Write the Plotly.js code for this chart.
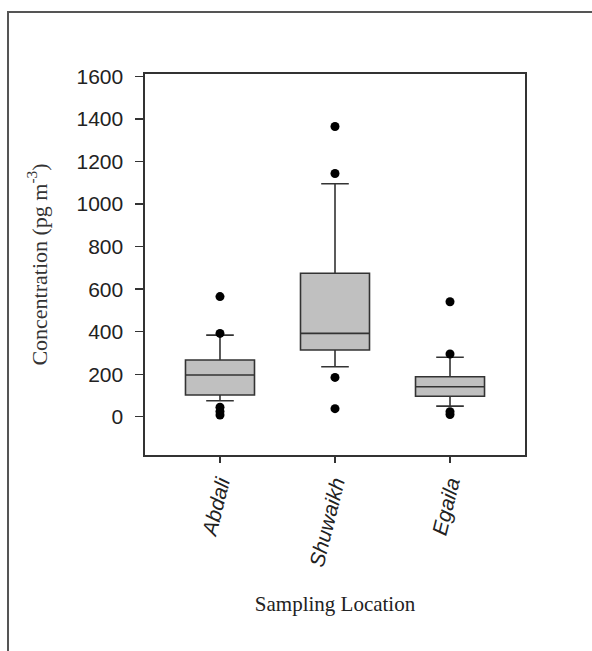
<!DOCTYPE html>
<html>
<head>
<meta charset="utf-8">
<script src="https://cdn.plot.ly/plotly-3.0.1.min.js"></script>
<style>html,body{margin:0;padding:0;background:#fff;}#chart{width:592px;height:651px;}</style>
</head>
<body>
<div id="chart"></div>
<script>
// Data
const locations = ["Abdali", "Shuwaikh", "Egaila"];
const q1 = [102, 314, 96];
const median = [196, 392, 141];
const q3 = [267, 675, 188];
const lowerWhisker = [75, 235, 50];
const upperWhisker = [384, 1096, 280];
const outlierLocation = ["Abdali", "Abdali", "Abdali", "Abdali", "Abdali",
                         "Shuwaikh", "Shuwaikh", "Shuwaikh", "Shuwaikh",
                         "Egaila", "Egaila", "Egaila", "Egaila"];
const outlierValue = [565, 392, 45, 25, 8,
                      1365, 1144, 185, 38,
                      541, 295, 24, 10];
const yTicks = [0, 200, 400, 600, 800, 1000, 1200, 1400, 1600];

const boxTrace = {
  type: "box",
  x: locations,
  q1: q1, median: median, q3: q3,
  lowerfence: lowerWhisker, upperfence: upperWhisker,
  fillcolor: "#c0c0c0",
  line: {color: "#333333", width: 1.6},
  whiskerwidth: 0.4,
  width: 0.6,
  boxpoints: false,
  hoverinfo: "skip",
  showlegend: false
};
const outlierTrace = {
  type: "scatter", mode: "markers",
  x: outlierLocation, y: outlierValue,
  marker: {color: "#000000", size: 9},
  showlegend: false
};

const layout = {
  width: 592, height: 651,
  margin: {l: 145, r: 67, t: 74, b: 196},
  paper_bgcolor: "#ffffff", plot_bgcolor: "#ffffff",
  showlegend: false,
  xaxis: {
    type: "category",
    categoryorder: "array", categoryarray: locations,
    range: [-0.652, 2.652],
    showline: true, mirror: true, linecolor: "#333333", linewidth: 1.6,
    ticks: "outside", ticklen: 6, tickcolor: "#333333", tickwidth: 1.4,
    tickangle: -76,
    tickfont: {family: "Liberation Sans, Arial, sans-serif", size: 21, color: "#222222", style: "italic"},
    showgrid: false, zeroline: false,
    automargin: false,
    title: {text: "Sampling Location", standoff: 28, font: {family: "Liberation Serif, Times New Roman, serif", size: 21, color: "#222222"}}
  },
  yaxis: {
    range: [-180, 1612],
    tickvals: yTicks,
    showline: true, mirror: true, linecolor: "#333333", linewidth: 1.6,
    ticks: "outside", ticklen: 8, tickcolor: "#333333", tickwidth: 1.4,
    tickfont: {family: "Liberation Sans, Arial, sans-serif", size: 21, color: "#222222"},
    ticklabelstandoff: 8,
    showgrid: false, zeroline: false,
    automargin: false,
    title: {text: "Concentration (pg m<sup>-3</sup>)", standoff: 23, font: {family: "Liberation Serif, Times New Roman, serif", size: 22, color: "#333333"}}
  },
  shapes: [{
    type: "rect", xref: "paper", yref: "paper",
    x0: -0.3605, x1: 1.5, y0: -1.0, y1: 1.1627,
    line: {color: "#555555", width: 2}, fillcolor: "rgba(0,0,0,0)", layer: "below"
  }]
};

Plotly.newPlot("chart", [boxTrace, outlierTrace], layout, {displayModeBar: false, staticPlot: true});
</script>
</body>
</html>
